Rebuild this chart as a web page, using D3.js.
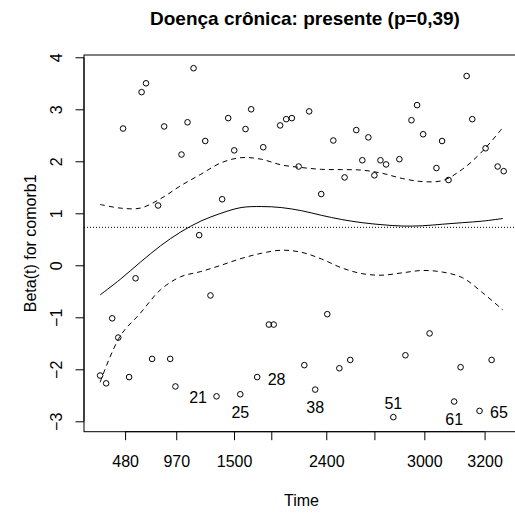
<!DOCTYPE html>
<html>
<head>
<meta charset="utf-8">
<script src="https://cdn.jsdelivr.net/npm/d3@7"></script>
<style>
  html, body { margin: 0; padding: 0; background: #fff; }
  svg { display: block; }
  text { font-family: "Liberation Sans", Arial, Helvetica, sans-serif; fill: #000; }
</style>
</head>
<body>
<svg id="chart" width="515" height="515"></svg>
<script>
// Scaled Schoenfeld residuals for comorb1, ordered by (transformed) event time
const kmTime = [
  0.000, 0.015, 0.030, 0.045, 0.057, 0.072, 0.088, 0.103, 0.114, 0.129,
  0.144, 0.159, 0.174, 0.187, 0.202, 0.217, 0.232, 0.246, 0.261, 0.274,
  0.289, 0.303, 0.318, 0.333, 0.348, 0.361, 0.375, 0.390, 0.405, 0.419,
  0.431, 0.447, 0.462, 0.476, 0.493, 0.507, 0.519, 0.534, 0.549, 0.564,
  0.579, 0.594, 0.607, 0.621, 0.636, 0.651, 0.666, 0.681, 0.696, 0.710,
  0.728, 0.743, 0.758, 0.773, 0.787, 0.802, 0.818, 0.835, 0.849, 0.865,
  0.879, 0.895, 0.910, 0.924, 0.942, 0.957, 0.972, 0.987, 1.002
];
const residuals = [
  -2.12, -2.27, -1.02, -1.39,  2.63, -2.15, -0.25,  3.33,  3.50, -1.80,
   1.15,  2.67, -1.80, -2.33,  2.13,  2.75,  3.79,  0.58,  2.39, -0.58,
  -2.52,  1.27,  2.83,  2.21, -2.48,  2.62,  3.00, -2.15,  2.27, -1.14,
  -1.14,  2.69,  2.81,  2.83,  1.90, -1.92,  2.96, -2.39,  1.37, -0.94,
   2.40, -1.98,  1.69, -1.82,  2.60,  2.02,  2.46,  1.73,  2.02,  1.94,
  -2.92,  2.04, -1.73,  2.79,  3.08,  2.52, -1.31,  1.87,  2.39,  1.64,
  -2.62, -1.96,  3.64,  2.81, -2.80,  2.25, -1.82,  1.90,  1.81
];

// Identified observations (1-based order) and where their labels sit:
// 1 = below, 2 = left, 3 = above, 4 = right
const labelIds = [21, 25, 28, 38, 51, 61, 65];
const labelPos = [2, 1, 4, 1, 3, 1, 4];

// Smoothed beta(t) with its confidence band
const smoothAt = [0.00, 0.05, 0.10, 0.15, 0.20, 0.25, 0.30, 0.35, 0.40, 0.45, 0.50,
                  0.55, 0.60, 0.65, 0.70, 0.75, 0.80, 0.85, 0.90, 0.95, 1.00];
const fitBeta = [-0.57, -0.27, 0.06, 0.375, 0.64, 0.85, 1.00, 1.11, 1.13, 1.11, 1.05,
                  0.96, 0.88, 0.82, 0.78, 0.755, 0.76, 0.79, 0.82, 0.85, 0.90];
const upperBeta = [1.17, 1.10, 1.10, 1.28, 1.53, 1.75, 1.97, 2.07, 2.04, 1.93, 1.88,
                   1.845, 1.84, 1.83, 1.77, 1.67, 1.61, 1.63, 1.85, 2.20, 2.65];
const lowerBeta = [-2.25, -1.36, -0.92, -0.47, -0.22, -0.12, 0.00, 0.13, 0.23, 0.29, 0.25,
                   0.12, -0.05, -0.16, -0.19, -0.145, -0.10, -0.13, -0.24, -0.53, -0.86];

// Cox model coefficient (reference line)
const coefBeta = 0.73;

// Axis ticks: positions on the transformed time scale and their time labels
const xTickAt = [0.062, 0.189, 0.3325, 0.425, 0.5615, 0.681, 0.805, 0.9545];
const xTickLabels = ["480", "970", "1500", "", "2400", "", "3000", "3200"];
const yTicks = [-3, -2, -1, 0, 1, 2, 3, 4];

const titleText = "Doença crônica: presente (p=0,39)";
const xTitle = "Time";
const yTitle = "Beta(t) for comorb1";

const svg = d3.select("#chart");
const plot = { left: 84, right: 519, top: 55, bottom: 431.7 };

const x = d3.scaleLinear().domain([-0.04, 1.04]).range([plot.left, plot.right]);
const y = d3.scaleLinear().domain([-3.2, 4.044]).range([plot.bottom, plot.top]);

// Points
const pts = kmTime.map((t, i) => ({ t, r: residuals[i], id: i + 1 }));
svg.append("g")
  .selectAll("circle")
  .data(pts)
  .join("circle")
  .attr("cx", d => x(d.t))
  .attr("cy", d => y(d.r))
  .attr("r", 2.8)
  .attr("fill", "none")
  .attr("stroke", "#000")
  .attr("stroke-width", 1);

// Smooth and confidence band
const curve = (vals) => d3.line()
  .x((d, i) => x(smoothAt[i]))
  .y(d => y(d))
  .curve(d3.curveCatmullRom.alpha(0.5))(vals);

svg.append("path").attr("d", curve(fitBeta))
  .attr("fill", "none").attr("stroke", "#000").attr("stroke-width", 1);
svg.append("path").attr("d", curve(upperBeta))
  .attr("fill", "none").attr("stroke", "#000").attr("stroke-width", 1)
  .attr("stroke-dasharray", "5,4");
svg.append("path").attr("d", curve(lowerBeta))
  .attr("fill", "none").attr("stroke", "#000").attr("stroke-width", 1)
  .attr("stroke-dasharray", "5,4");

// Horizontal line at the model coefficient
svg.append("line")
  .attr("x1", plot.left).attr("x2", plot.right)
  .attr("y1", y(coefBeta)).attr("y2", y(coefBeta))
  .attr("stroke", "#000").attr("stroke-width", 1)
  .attr("stroke-dasharray", "1,2");

// Point labels
const labelG = svg.append("g").attr("font-size", 16);
labelIds.forEach((id, k) => {
  const p = pts[id - 1];
  const px = x(p.t), py = y(p.r);
  const pos = labelPos[k];
  const t = labelG.append("text").text(String(id));
  if (pos === 1) t.attr("x", px).attr("y", py + 23.5).attr("text-anchor", "middle");
  if (pos === 2) t.attr("x", px - 9.5).attr("y", py + 6.5).attr("text-anchor", "end");
  if (pos === 3) t.attr("x", px).attr("y", py - 8.5).attr("text-anchor", "middle");
  if (pos === 4) t.attr("x", px + 10.5).attr("y", py + 7.5).attr("text-anchor", "start");
});

// Box
svg.append("rect")
  .attr("x", plot.left).attr("y", plot.top)
  .attr("width", plot.right - plot.left).attr("height", plot.bottom - plot.top)
  .attr("fill", "none").attr("stroke", "#000").attr("stroke-width", 1);

// X axis
const xAxis = d3.axisBottom(x)
  .tickValues(xTickAt)
  .tickFormat((d, i) => xTickLabels[i])
  .tickSizeInner(8.5).tickSizeOuter(0).tickPadding(0);
const gx = svg.append("g").attr("transform", `translate(0,${plot.bottom})`).call(xAxis);
gx.select(".domain")
  .attr("d", `M${x(xTickAt[0])},0H${x(xTickAt[xTickAt.length - 1])}`);
gx.selectAll(".tick text")
  .attr("y", 35.6).attr("dy", null)
  .attr("font-size", 16).attr("font-family", null).attr("fill", "#000");

// Y axis (labels parallel to the axis)
const yAxis = d3.axisLeft(y)
  .tickValues(yTicks)
  .tickFormat(d3.format("d"))
  .tickSizeInner(8.5).tickSizeOuter(0).tickPadding(0);
const gy = svg.append("g").attr("transform", `translate(${plot.left},0)`).call(yAxis);
gy.select(".domain")
  .attr("d", `M0,${y(yTicks[0])}V${y(yTicks[yTicks.length - 1])}`);
gy.selectAll(".tick text")
  .attr("x", null).attr("dy", null)
  .attr("transform", "translate(-22,0) rotate(-90)")
  .attr("text-anchor", "middle")
  .attr("font-size", 16).attr("font-family", null).attr("fill", "#000");

svg.selectAll(".domain, .tick line").attr("stroke", "#000");

// Titles
svg.append("text")
  .attr("x", 305).attr("y", 25)
  .attr("text-anchor", "middle")
  .attr("font-size", 19).attr("font-weight", "bold")
  .text(titleText);

svg.append("text")
  .attr("x", (plot.left + plot.right) / 2).attr("y", 506)
  .attr("text-anchor", "middle")
  .attr("font-size", 16)
  .text(xTitle);

svg.append("text")
  .attr("transform", `translate(36,${(plot.top + plot.bottom) / 2}) rotate(-90)`)
  .attr("text-anchor", "middle")
  .attr("font-size", 16)
  .text(yTitle);
</script>
</body>
</html>
